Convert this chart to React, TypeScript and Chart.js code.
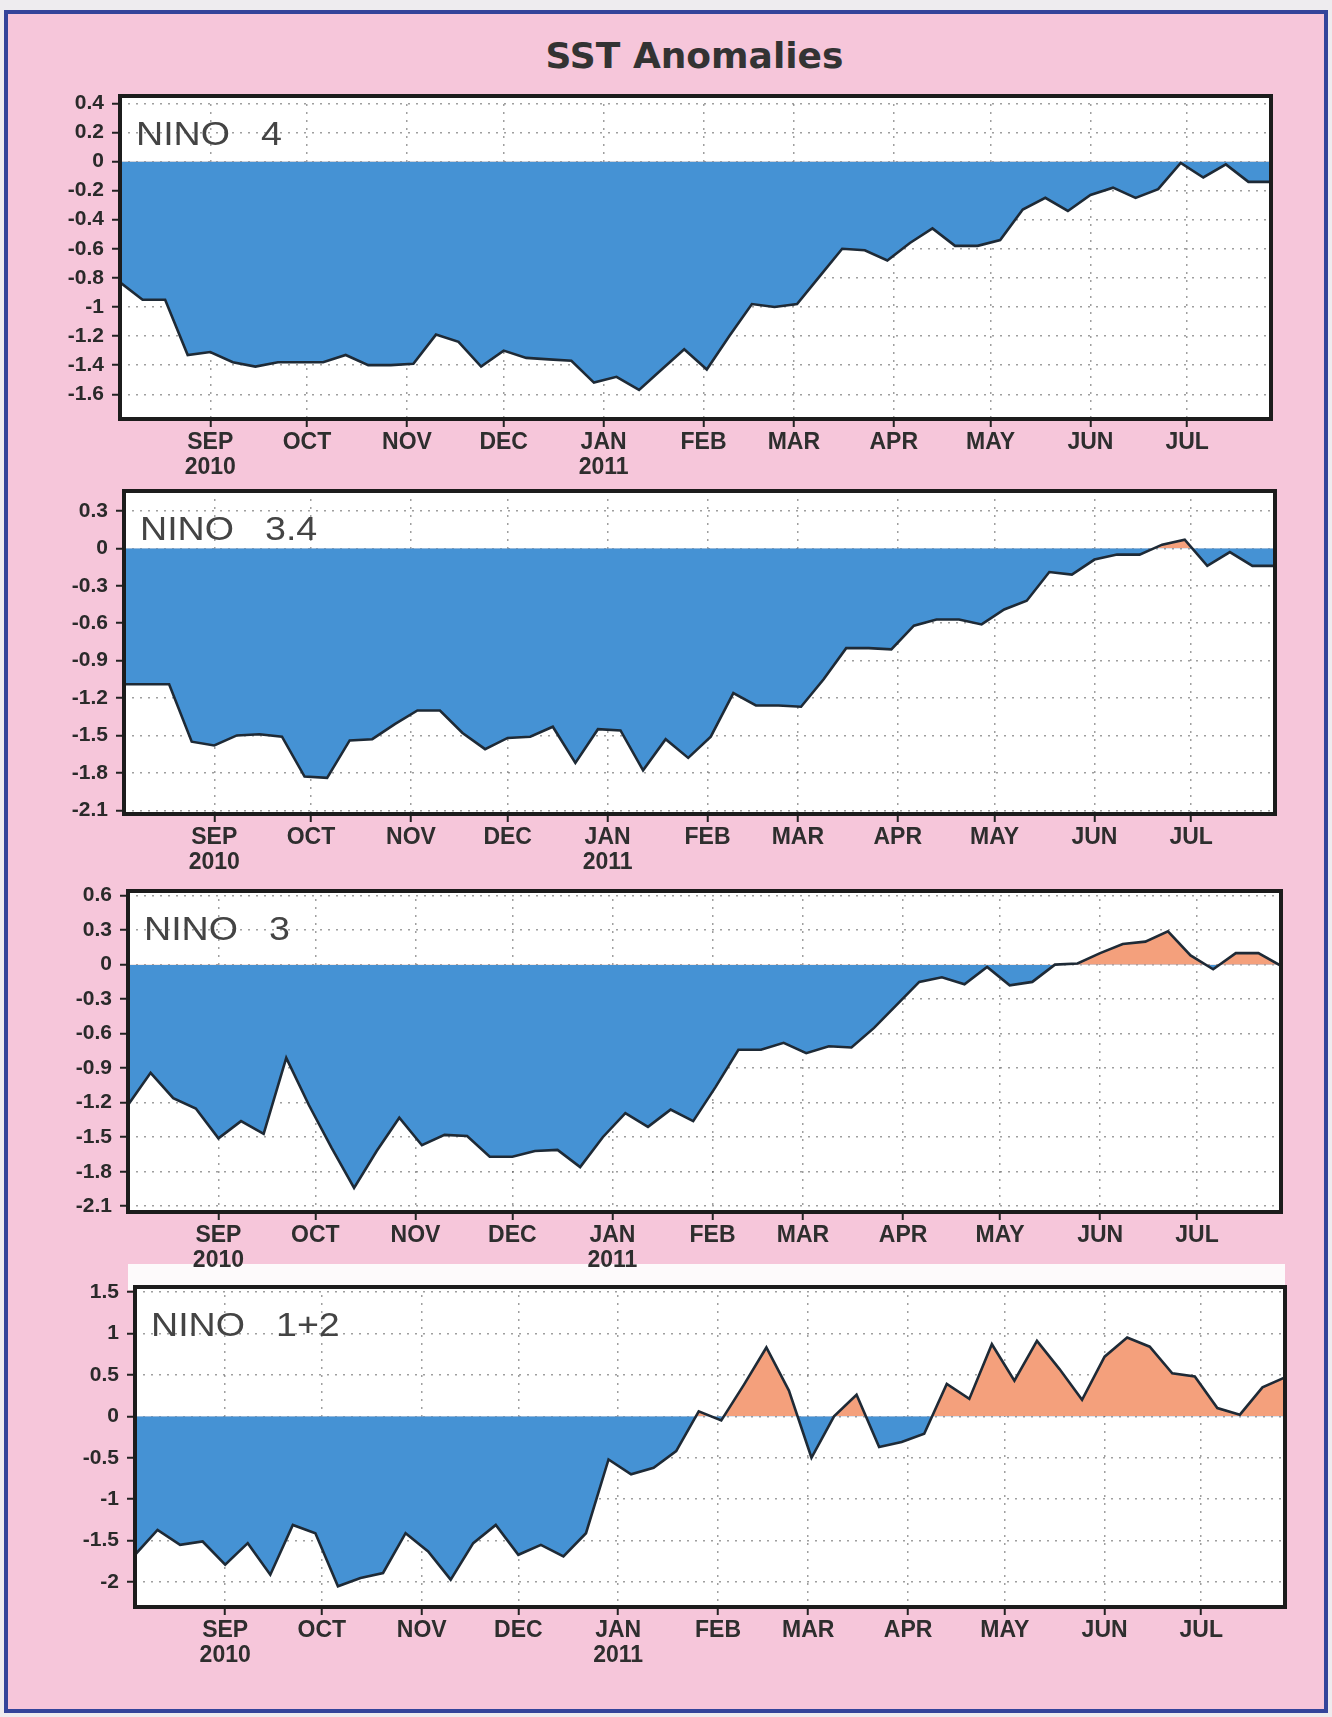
import React, { useEffect, useRef } from "react";
import { Chart, registerables } from "chart.js";

Chart.register(...registerables);

// ---- data -------------------------------------------------------------
const WEEKS = [
  "2010-08-04", "2010-08-11", "2010-08-18", "2010-08-25",
  "2010-09-01", "2010-09-08", "2010-09-15", "2010-09-22", "2010-09-29",
  "2010-10-06", "2010-10-13", "2010-10-20", "2010-10-27",
  "2010-11-03", "2010-11-10", "2010-11-17", "2010-11-24",
  "2010-12-01", "2010-12-08", "2010-12-15", "2010-12-22", "2010-12-29",
  "2011-01-05", "2011-01-12", "2011-01-19", "2011-01-26",
  "2011-02-02", "2011-02-09", "2011-02-16", "2011-02-23",
  "2011-03-02", "2011-03-09", "2011-03-16", "2011-03-23", "2011-03-30",
  "2011-04-06", "2011-04-13", "2011-04-20", "2011-04-27",
  "2011-05-04", "2011-05-11", "2011-05-18", "2011-05-25",
  "2011-06-01", "2011-06-08", "2011-06-15", "2011-06-22", "2011-06-29",
  "2011-07-06", "2011-07-13", "2011-07-20", "2011-07-27",
];

const NINO4 = [
  -0.83, -0.95, -0.95, -1.33, -1.31, -1.38, -1.41, -1.38, -1.38, -1.38,
  -1.33, -1.40, -1.40, -1.39, -1.19, -1.24, -1.41, -1.30, -1.35, -1.36,
  -1.37, -1.52, -1.48, -1.57, -1.43, -1.29, -1.43, -1.20, -0.98, -1.00,
  -0.98, -0.79, -0.60, -0.61, -0.68, -0.56, -0.46, -0.58, -0.58, -0.54,
  -0.33, -0.25, -0.34, -0.23, -0.18, -0.25, -0.19, -0.01, -0.11, -0.02,
  -0.14, -0.14,
];

const NINO34 = [
  -1.09, -1.09, -1.09, -1.55, -1.58, -1.50, -1.49, -1.51, -1.83, -1.84,
  -1.54, -1.53, -1.41, -1.30, -1.30, -1.48, -1.61, -1.52, -1.51, -1.43,
  -1.72, -1.45, -1.46, -1.78, -1.53, -1.68, -1.51, -1.16, -1.26, -1.26,
  -1.27, -1.05, -0.80, -0.80, -0.81, -0.62, -0.57, -0.57, -0.61, -0.49,
  -0.42, -0.19, -0.21, -0.09, -0.05, -0.05, 0.03, 0.07, -0.14, -0.03,
  -0.14, -0.14,
];

const NINO3 = [
  -1.22, -0.94, -1.16, -1.25, -1.51, -1.36, -1.47, -0.81, -1.22, -1.59,
  -1.94, -1.62, -1.33, -1.57, -1.48, -1.49, -1.67, -1.67, -1.62, -1.61,
  -1.76, -1.50, -1.29, -1.41, -1.26, -1.36, -1.06, -0.74, -0.74, -0.68,
  -0.77, -0.71, -0.72, -0.55, -0.35, -0.15, -0.11, -0.17, -0.02, -0.18,
  -0.15, 0.0, 0.01, 0.10, 0.18, 0.20, 0.29, 0.08, -0.04, 0.10,
  0.10, -0.01,
];

const NINO12 = [
  -1.67, -1.37, -1.55, -1.51, -1.79, -1.53, -1.91, -1.31, -1.41, -2.05,
  -1.95, -1.89, -1.41, -1.63, -1.97, -1.53, -1.31, -1.67, -1.55, -1.69,
  -1.41, -0.52, -0.70, -0.62, -0.42, 0.06, -0.05, 0.38, 0.83, 0.31,
  -0.50, 0.0, 0.26, -0.37, -0.31, -0.21, 0.39, 0.21, 0.87, 0.43,
  0.91, 0.57, 0.20, 0.72, 0.95, 0.84, 0.52, 0.48, 0.10, 0.02,
  0.35, 0.47,
];

const MONTH_TICKS = [
  "2010-09-01", "2010-10-01", "2010-11-01", "2010-12-01", "2011-01-01",
  "2011-02-01", "2011-03-01", "2011-04-01", "2011-05-01", "2011-06-01",
  "2011-07-01",
];
const MONTH_LABELS = ["SEP", "OCT", "NOV", "DEC", "JAN", "FEB", "MAR", "APR", "MAY", "JUN", "JUL"];
const YEAR_LABELS = ["2010", "", "", "", "2011", "", "", "", "", "", ""];
const AXIS_END = "2011-07-27";

const Y_TICKS_4 = [0.4, 0.2, 0, -0.2, -0.4, -0.6, -0.8, -1, -1.2, -1.4, -1.6];
const Y_TICKS_34 = [0.3, 0, -0.3, -0.6, -0.9, -1.2, -1.5, -1.8, -2.1];
const Y_TICKS_3 = [0.6, 0.3, 0, -0.3, -0.6, -0.9, -1.2, -1.5, -1.8, -2.1];
const Y_TICKS_12 = [1.5, 1, 0.5, 0, -0.5, -1, -1.5, -2];

const REGION_NAMES = ["4", "3.4", "3", "1+2"];
const TITLE = "SST Anomalies";

// ---- styling / layout -------------------------------------------------
const BLUE = "#4592d4";
const ORANGE = "#f4a07c";
const LINE = "#1e2a36";
const PINK = "#f6c6da";
const FRAME = "#34449a";
const GRID = "rgba(95,95,95,0.6)";

const YW = 100; // y-axis width
const PT = 24; // top padding
const PR = 12; // right padding
const XH = 62; // x-axis height

const day = (d: string) => (Date.parse(d) - Date.parse(WEEKS[0])) / 86400000;
const MONTH_DAYS = MONTH_TICKS.map(day);

type PanelSpec = {
  name: string;
  values: number[];
  ticks: number[];
  min: number;
  max: number;
  box: [number, number, number, number]; // left, top, right, bottom
};

const PANELS: PanelSpec[] = [
  { name: REGION_NAMES[0], values: NINO4, ticks: Y_TICKS_4, min: -1.77, max: 0.45, box: [120, 96, 1271, 419] },
  { name: REGION_NAMES[1], values: NINO34, ticks: Y_TICKS_34, min: -2.13, max: 0.46, box: [124, 491, 1275, 814] },
  { name: REGION_NAMES[2], values: NINO3, ticks: Y_TICKS_3, min: -2.15, max: 0.64, box: [128, 891, 1281, 1212] },
  { name: REGION_NAMES[3], values: NINO12, ticks: Y_TICKS_12, min: -2.3, max: 1.56, box: [135, 1287, 1285, 1607] },
];

const TICK_FONT_FAMILY = "'Liberation Sans', Arial, sans-serif";

function Panel({ spec }: { spec: PanelSpec }) {
  const ref = useRef<HTMLCanvasElement | null>(null);
  const [l, t, r, b] = spec.box;
  const w = YW + (r - l) + PR;
  const h = PT + (b - t) + XH;

  useEffect(() => {
    const canvas = ref.current;
    if (!canvas) return;
    const deco = {
      id: "deco",
      beforeDraw(chart: any) {
        const { ctx, chartArea: a } = chart;
        ctx.save();
        ctx.fillStyle = "#ffffff";
        ctx.fillRect(a.left, a.top, a.right - a.left, a.bottom - a.top);
        ctx.restore();
      },
      afterDatasetsDraw(chart: any) {
        const { ctx, chartArea: a } = chart;
        ctx.save();
        ctx.lineWidth = 4;
        ctx.strokeStyle = "#1c1c1c";
        ctx.strokeRect(a.left, a.top, a.right - a.left, a.bottom - a.top);
        ctx.fillStyle = "#444444";
        ctx.font = "33px 'Liberation Sans', sans-serif";
        ctx.textBaseline = "alphabetic";
        ctx.textAlign = "left";
        const base = a.top + 49;
        const nw = ctx.measureText("NINO").width;
        const sx = 94 / nw;
        ctx.save();
        ctx.translate(a.left + 16, base);
        ctx.scale(sx, 1);
        ctx.fillText("NINO", 0, 0);
        ctx.restore();
        ctx.save();
        ctx.translate(a.left + 141, base);
        ctx.scale(sx, 1);
        ctx.fillText(spec.name, 0, 0);
        ctx.restore();
        ctx.restore();
      },
    };

    const chart = new Chart(canvas, {
      type: "line",
      data: {
        datasets: [
          {
            data: WEEKS.map((d, i) => ({ x: day(d), y: spec.values[i] })),
            borderColor: LINE,
            borderWidth: 2.6,
            pointRadius: 0,
            tension: 0,
            fill: { target: { value: 0 }, above: ORANGE, below: BLUE },
          } as any,
        ],
      },
      options: {
        animation: false,
        responsive: false,
        maintainAspectRatio: false,
        devicePixelRatio: 1,
        layout: { padding: { top: PT, right: PR, left: 0, bottom: 0 } },
        plugins: { legend: { display: false }, tooltip: { enabled: false } },
        scales: {
          x: {
            type: "linear",
            min: 0,
            max: day(AXIS_END),
            afterBuildTicks: (s: any) => {
              s.ticks = MONTH_DAYS.map((v) => ({ value: v }));
            },
            afterFit: (s: any) => {
              s.height = XH;
            },
            ticks: {
              autoSkip: false,
              maxRotation: 0,
              minRotation: 0,
              padding: 3,
              color: "#2e2e2e",
              font: { family: TICK_FONT_FAMILY, size: 23, weight: "bold", lineHeight: 1.08 },
              callback: (v: any) => {
                const i = MONTH_DAYS.indexOf(Number(v));
                if (i < 0) return "";
                return YEAR_LABELS[i] ? [MONTH_LABELS[i], YEAR_LABELS[i]] : MONTH_LABELS[i];
              },
            },
            grid: {
              color: GRID,
              lineWidth: 1.5,
              drawTicks: true,
              tickLength: 8,
              tickColor: "#222",
              tickWidth: 2,
            },
            border: { display: false, dash: [2, 6] },
          },
          y: {
            type: "linear",
            min: spec.min,
            max: spec.max,
            afterBuildTicks: (s: any) => {
              s.ticks = spec.ticks.map((v) => ({ value: v }));
            },
            afterFit: (s: any) => {
              s.width = YW;
            },
            ticks: {
              padding: 8,
              color: "#2a2a2a",
              font: { family: TICK_FONT_FAMILY, size: 21, weight: "bold" },
              callback: (v: any) => String(Number(Number(v).toFixed(2))),
            },
            grid: {
              color: GRID,
              lineWidth: 1.5,
              drawTicks: true,
              tickLength: 8,
              tickColor: "#222",
              tickWidth: 2,
            },
            border: { display: false, dash: [2, 6] },
          },
        },
      } as any,
      plugins: [deco],
    });
    return () => chart.destroy();
  }, [spec]);

  return (
    <canvas
      ref={ref}
      width={w}
      height={h}
      style={{ position: "absolute", left: l - YW, top: t - PT, width: w, height: h }}
    />
  );
}

export default function App() {
  return (
    <div
      style={{
        position: "absolute",
        left: 0,
        top: 0,
        width: 1332,
        height: 1717,
        background: "#eeecef",
        overflow: "hidden",
      }}
    >
      <div
        style={{
          position: "absolute",
          left: 4,
          top: 10,
          width: 1324,
          height: 1703,
          boxSizing: "border-box",
          background: PINK,
          border: `4px solid ${FRAME}`,
        }}
      />
      <div
        style={{
          position: "absolute",
          left: 128,
          top: 1264,
          width: 1157,
          height: 26,
          background: "#fdfafb",
        }}
      />
      <div
        style={{
          position: "absolute",
          left: 0,
          top: 38,
          width: 1389,
          textAlign: "center",
          fontFamily: "'DejaVu Sans', sans-serif",
          fontWeight: "bold",
          fontSize: 36,
          lineHeight: "36px",
          color: "#333",
        }}
      >
        {TITLE}
      </div>
      {PANELS.map((p) => (
        <Panel key={p.name} spec={p} />
      ))}
    </div>
  );
}
